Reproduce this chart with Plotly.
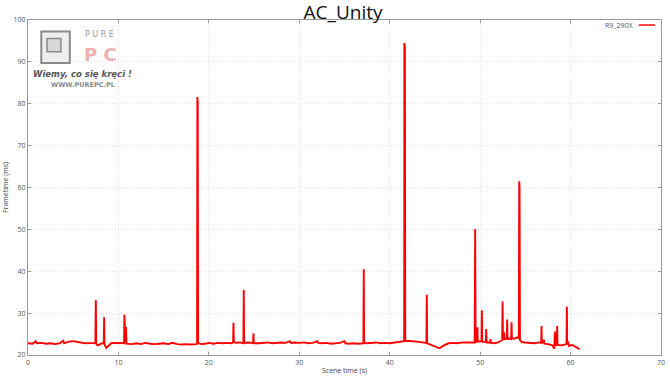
import plotly.graph_objects as go

# Frametime series (scene time in s, frametime in ms)
scene_time = [
    0.0, 0.5, 0.85, 0.95, 1.5, 2.0, 2.5, 3.0, 3.5, 3.9, 4.0, 4.5, 5.0, 5.5, 5.8, 6.2, 6.8, 7.3,
    7.45, 7.5, 7.55, 7.7, 8.0, 8.3, 8.38, 8.42, 8.46, 8.67, 8.9, 9.2, 9.6, 10.0, 10.4,
    10.62, 10.66, 10.72, 10.8, 10.84, 10.88, 11.5, 12.0, 12.5, 13.0, 13.5, 14.0, 14.5, 15.0,
    15.5, 16.0, 16.5, 17.0, 17.5, 18.0, 18.6, 18.7, 18.73, 18.77, 18.81, 19.2, 19.6, 20.0,
    20.5, 21.0, 21.5, 22.0, 22.5, 22.68, 22.72, 22.76, 23.0, 23.4, 23.82, 23.86, 23.9, 24.3,
    24.89, 24.93, 24.97, 25.5, 26.0, 26.5, 27.0, 27.5, 28.0, 28.5, 28.95, 29.05, 29.5, 30.0,
    30.5, 31.0, 31.5, 32.0, 32.1, 32.5, 33.0, 33.5, 34.0, 34.5, 35.0, 35.1, 35.5, 36.0, 36.5,
    37.09, 37.13, 37.17, 37.5, 38.0, 38.5, 39.0, 39.5, 40.0, 40.5, 41.0, 41.4, 41.6, 41.62,
    41.68, 41.72, 42.0, 42.5, 43.0, 43.5, 44.06, 44.1, 44.14, 44.5, 45.0, 45.5, 46.0, 46.5,
    47.0, 47.5, 48.0, 48.5, 49.0, 49.4, 49.45, 49.5, 49.66, 49.7, 49.74, 50.15, 50.19, 50.23,
    50.63, 50.67, 50.71, 51.1, 51.15, 51.2, 51.5, 52.0, 52.3, 52.44, 52.48, 52.52, 52.62,
    52.66, 52.7, 52.95, 52.99, 53.03, 53.2, 53.43, 53.47, 53.51, 53.8, 54.1, 54.28, 54.32,
    54.36, 54.4, 54.6, 55.0, 55.5, 56.0, 56.5, 56.75, 56.79, 56.83, 57.05, 57.1, 57.5, 58.0,
    58.2, 58.27, 58.31, 58.48, 58.52, 58.56, 59.0, 59.3, 59.55, 59.59, 59.63, 59.74, 59.8,
    60.2, 60.5, 60.8, 61.0,
]
frametime = [
    22.8, 22.7, 23.3, 22.8, 22.9, 22.7, 22.8, 22.6, 22.8, 23.4, 22.8, 23.2, 23.3, 23.2, 23.0, 22.8, 22.9, 22.8,
    22.9, 33.1, 22.6, 22.3, 22.7, 22.9, 22.8, 29.0, 22.5, 21.7, 22.3, 22.8, 22.9, 22.8, 22.7,
    22.8, 29.6, 22.9, 22.9, 26.7, 22.7, 22.6, 22.8, 22.6, 22.9, 22.7, 22.6, 22.7, 22.8,
    22.6, 22.9, 22.6, 22.5, 22.6, 22.5, 22.6, 22.7, 81.6, 80.5, 22.8, 22.6, 22.7, 22.9,
    22.7, 22.9, 22.8, 22.9, 22.8, 23.0, 27.7, 23.1, 22.9, 23.0, 22.8, 35.5, 22.9, 23.0,
    22.9, 25.2, 22.8, 22.8, 22.9, 23.0, 22.8, 22.9, 23.0, 22.9, 23.3, 22.9, 23.0, 22.9,
    23.0, 22.8, 22.9, 23.3, 22.9, 22.8, 22.9, 22.7, 22.8, 22.9, 23.3, 22.8, 22.7, 22.8, 22.7,
    22.8, 40.5, 22.9, 22.8, 22.9, 23.0, 22.8, 22.9, 22.8, 23.0, 23.1, 23.3, 23.3, 94.5,
    93.5, 23.4, 23.4, 23.3, 23.2, 23.0, 22.9, 34.4, 22.8, 22.5, 22.1, 21.6, 22.3, 22.8,
    22.9, 22.8, 23.0, 23.0, 23.1, 23.0, 50.1, 23.1, 23.2, 26.6, 23.2, 23.3, 30.7, 23.2,
    23.1, 26.2, 23.0, 23.0, 23.8, 22.9, 22.8, 23.0, 23.4, 23.6, 32.8, 23.8, 23.9,
    25.4, 23.8, 23.9, 28.5, 23.7, 24.0, 23.8, 27.8, 24.0, 23.9, 24.2, 24.0, 61.5,
    60.0, 23.6, 23.1, 23.0, 22.9, 22.8, 23.0, 22.9, 26.9, 22.8, 23.6, 22.7, 22.6, 22.3,
    21.5, 25.6, 22.3, 22.4, 26.9, 22.4, 22.3, 22.4, 22.6, 31.5, 22.5, 23.2, 22.2,
    22.4, 22.0, 21.8, 21.4,
]
series_name = "R9_290X"
x_ticks = [0, 10, 20, 30, 40, 50, 60, 70]
y_ticks = [20, 30, 40, 50, 60, 70, 80, 90, 100]

FONT = "Open Sans"
AXIS_COLOR = "#9a9a9a"
GRID_COLOR = "#e6dcdc"

fig = go.Figure()
fig.add_trace(go.Scatter(
    x=scene_time, y=frametime, mode="lines", name=series_name,
    line=dict(color="#ff0000", width=1.9), showlegend=False,
))

axis_common = dict(
    showline=True, linecolor=AXIS_COLOR, linewidth=1.2, mirror="ticks",
    ticks="inside", ticklen=3, tickcolor=AXIS_COLOR,
    showgrid=True, gridcolor=GRID_COLOR, griddash="1px,2px", gridwidth=1,
    zeroline=False, automargin=False,
    tickfont=dict(family=FONT, size=7, color="#555555"),
)

fig.update_layout(
    width=670, height=377,
    margin=dict(l=28, r=9, t=20, b=22),
    paper_bgcolor="white", plot_bgcolor="white",
    title=dict(text="AC_Unity", x=0.512, xanchor="center", y=0.968, yanchor="middle",
               font=dict(family=FONT, size=19, color="#111111")),
    xaxis=dict(range=[0, 70], tickvals=x_ticks,
               title=dict(text="Scene time (s)", standoff=2,
                          font=dict(family=FONT, size=7, color="#444444")),
               **axis_common),
    yaxis=dict(range=[20, 100], tickvals=y_ticks,
               title=dict(text="Frametime (ms)", standoff=4,
                          font=dict(family=FONT, size=7, color="#444444")),
               **axis_common),
)

# Legend (text left of line sample, as in the reference)
fig.add_annotation(xref="paper", yref="paper", x=0.959, y=0.985, xanchor="right", yanchor="middle",
                   text=series_name, showarrow=False,
                   font=dict(family=FONT, size=7, color="#555555"))
fig.add_shape(type="line", xref="paper", yref="paper", x0=0.965, x1=0.9905, y0=0.985, y1=0.985,
              line=dict(color="#ff0000", width=1.5))

# PurePC watermark logo (approximation)
fig.add_shape(type="rect", xref="paper", yref="paper", x0=0.021, x1=0.066, y0=0.872, y1=0.966,
              line=dict(color="#8a8a8a", width=2), fillcolor="#eeeeee", layer="above")
fig.add_shape(type="rect", xref="paper", yref="paper", x0=0.030, x1=0.052, y0=0.905, y1=0.945,
              line=dict(color="#8a8a8a", width=1.5), fillcolor="#d8d8d8", layer="above")
fig.add_annotation(xref="paper", yref="paper", x=0.113, y=0.958, xanchor="center", yanchor="middle",
                   text="P U R E", showarrow=False, borderpad=0,
                   font=dict(family="DejaVu Sans", size=8, color="#9a9a9a"))
fig.add_annotation(xref="paper", yref="paper", x=0.114, y=0.898, xanchor="center", yanchor="middle",
                   text="<b>P C</b>", showarrow=False, borderpad=0,
                   font=dict(family="DejaVu Sans", size=18, color="#f0b0b0"))
fig.add_annotation(xref="paper", yref="paper", x=0.086, y=0.838, xanchor="center", yanchor="middle",
                   text="<b><i>Wiemy, co się kręci !</i></b>", borderpad=0,
                   showarrow=False, font=dict(family="DejaVu Sans", size=8.5, color="#555555"))
fig.add_annotation(xref="paper", yref="paper", x=0.087, y=0.806, xanchor="center", yanchor="middle",
                   text="<b>WWW.PUREPC.PL</b>", borderpad=0,
                   showarrow=False, font=dict(family="DejaVu Sans", size=6.5, color="#8a8a8a"))

fig.write_html("out.html")
